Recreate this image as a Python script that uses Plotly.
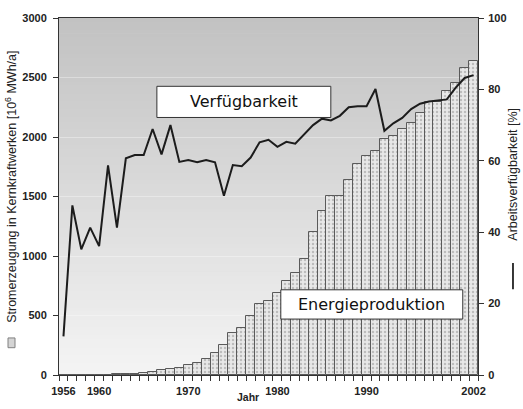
import plotly.graph_objects as go

years = list(range(1956, 2003))
energy = [0, 1, 2, 2, 3, 4, 6, 8, 10, 18,
          25, 38, 48, 57, 82, 100, 138, 185, 248, 350,
          393, 495, 595, 623, 686, 787, 855, 973, 1205, 1377,
          1508, 1508, 1637, 1773, 1842, 1883, 1986, 2005, 2068, 2115,
          2202, 2292, 2292, 2383, 2456, 2579, 2639]
availability = [10.8, 47.5, 35.2, 41.3, 36.1, 58.7, 41.3, 60.7, 61.6, 61.6,
                68.9, 61.8, 70.0, 59.7, 60.2, 59.6, 60.2, 59.6, 50.2, 58.8,
                58.5, 60.9, 65.2, 65.9, 63.9, 65.3, 64.8, 67.3, 70.0, 71.8,
                71.3, 72.6, 75.0, 75.3, 75.3, 80.1, 68.4, 70.5, 72.0, 74.5,
                76.0, 76.6, 76.9, 77.2, 80.5, 83.2, 84.0]
xtick_vals = [1956, 1960, 1970, 1980, 1990, 2002]
xtick_text = ["1956", "1960", "1970", "1980", "1990", "2002"]
ytick_left = [0, 500, 1000, 1500, 2000, 2500, 3000]
ytick_right = [0, 20, 40, 60, 80, 100]

W, H = 523, 409
L, R, T, B = 59, 45, 12, 31

fig = go.Figure()

fig.add_trace(go.Bar(
    x=years, y=energy, width=1.0,
    marker=dict(color="#e6e6e6",
                line=dict(color="#5a5a5a", width=1),
                pattern=dict(shape=".", fgcolor="#929292", bgcolor="#e8e8e8",
                             size=4, solidity=0.3)),
    hoverinfo="skip", showlegend=False))

fig.add_trace(go.Scatter(
    x=years, y=availability, yaxis="y2", mode="lines",
    line=dict(color="#1c1c1c", width=2),
    hoverinfo="skip", showlegend=False))

# background gradient (style only)
shapes = []
N = 90
top = (194, 194, 194)
bot = (244, 244, 244)
for i in range(N):
    f = i / (N - 1)
    c = tuple(round(bot[k] + (top[k] - bot[k]) * f) for k in range(3))
    shapes.append(dict(type="rect", xref="paper", yref="paper",
                       x0=0, x1=1, y0=i / N, y1=(i + 1) / N + 0.002,
                       fillcolor="rgb(%d,%d,%d)" % c, line=dict(width=0),
                       layer="below"))

# text boxes
shapes.append(dict(type="rect", xref="x", yref="y",
                   x0=1966.48, x1=1985.99, y0=2164, y1=2426,
                   fillcolor="white", line=dict(color="#333", width=1), layer="above"))
shapes.append(dict(type="rect", xref="x", yref="y",
                   x0=1980.38, x1=2000.79, y0=470, y1=716,
                   fillcolor="white", line=dict(color="#333", width=1), layer="above"))
# legend symbol for bars (left title)
shapes.append(dict(type="rect", xref="paper", yref="paper",
                   x0=-0.1217, x1=-0.1050, y0=0.0765, y1=0.1038,
                   fillcolor="#d4d4d4", line=dict(color="#808080", width=1)))
# legend symbol for line (right title)
shapes.append(dict(type="line", xref="paper", yref="paper",
                   x0=1.0835, x1=1.0835, y0=0.240, y1=0.314,
                   line=dict(color="#222", width=1.8)))

annotations = [
    dict(x=1976.24, y=2295, xref="x", yref="y", text="Verfügbarkeit",
         showarrow=False, font=dict(family="DejaVu Sans", size=16, color="#111")),
    dict(x=1990.6, y=593, xref="x", yref="y", text="Energieproduktion",
         showarrow=False, font=dict(family="DejaVu Sans", size=16, color="#111")),
    dict(x=-0.1146, y=0.527, xref="paper", yref="paper", textangle=-90,
         text="Stromerzeugung in Kernkraftwerken [10<sup>6</sup> MWh/a]",
         showarrow=False, xanchor="center", yanchor="middle",
         font=dict(family="Liberation Sans", size=12.5, color="#222")),
    dict(x=1.0835, y=0.564, xref="paper", yref="paper", textangle=-90,
         text="Arbeitsverfügbarkeit [%]",
         showarrow=False, xanchor="center", yanchor="middle",
         font=dict(family="Liberation Sans", size=12.5, color="#222")),
    dict(x=0.451, y=-0.062, xref="paper", yref="paper", text="Jahr",
         showarrow=False, xanchor="center", yanchor="middle",
         font=dict(family="Liberation Sans", size=10.5, color="#222", weight="bold")),
]

tickfont = dict(family="Liberation Sans", size=11, color="#222", weight="bold")

fig.update_layout(
    width=W, height=H,
    margin=dict(l=L, r=R, t=T, b=B, pad=0),
    paper_bgcolor="white", plot_bgcolor="#e0e0e0",
    bargap=0, showlegend=False,
    shapes=shapes, annotations=annotations,
    xaxis=dict(range=[1955.5, 2002.5], tickvals=xtick_vals, ticktext=xtick_text,
               ticks="outside", ticklen=6, tickcolor="rgba(0,0,0,0)",
               minor=dict(ticks="outside", tick0=1955.5, dtick=1, ticklen=5,
                          tickcolor="#333", tickwidth=1, showgrid=False),
               showline=True, linecolor="#333", linewidth=1, mirror=True,
               showgrid=False, zeroline=False, tickfont=tickfont),
    yaxis=dict(range=[0, 3000], tickvals=ytick_left,
               ticks="outside", ticklen=5, tickcolor="#333", ticklabelstandoff=4,
               showline=True, linecolor="#333", linewidth=1,
               showgrid=True, gridcolor="rgba(255,255,255,0.35)", gridwidth=1,
               zeroline=False, tickfont=tickfont),
    yaxis2=dict(range=[0, 100], tickvals=ytick_right, overlaying="y", side="right",
                ticks="outside", ticklen=5, tickcolor="#333", ticklabelstandoff=2,
                showline=True, linecolor="#333", linewidth=1,
                showgrid=False, zeroline=False, tickfont=tickfont),
)

fig.write_html("out.html")
